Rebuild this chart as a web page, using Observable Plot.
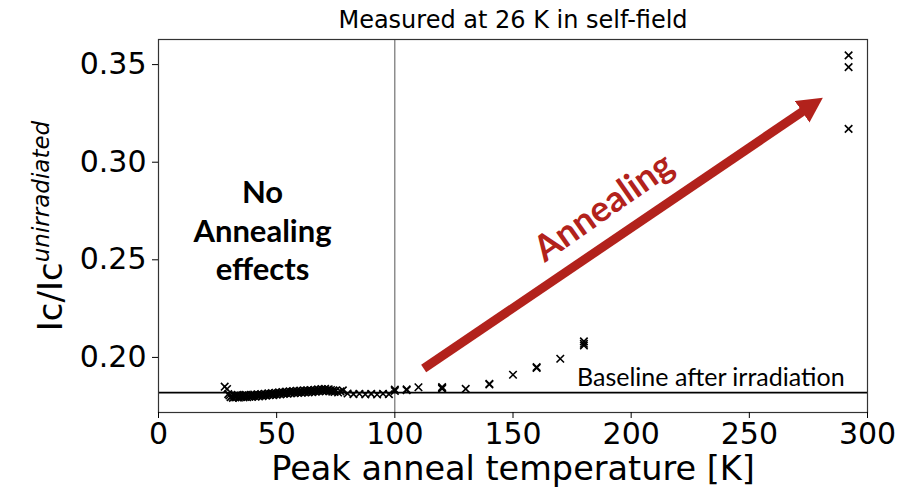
<!DOCTYPE html>
<html>
<head>
<meta charset="utf-8">
<script src="https://cdn.jsdelivr.net/npm/d3@7"></script>
<script src="https://cdn.jsdelivr.net/npm/@observablehq/plot@0.6"></script>
<style>
  html, body { margin: 0; padding: 0; background: white; }
  #chart { width: 914px; height: 492px; }
</style>
</head>
<body>
<div id="chart"></div>
<script>
// ---- data ----
const temps = [
  28, 29, 29.5, 30, 30.5, 31, 31.5, 32, 32.5, 33, 33.5, 34, 34.5, 35, 35.5, 36, 36.5, 37, 37.5, 38,
  38.5, 39, 39.5, 40, 40.5, 41, 41.5, 42, 42.5, 43, 43.5, 44, 44.5, 45, 45.5, 46, 46.5, 47, 47.5, 48,
  48.5, 49, 49.5, 50, 50.5, 51, 51.5, 52, 52.5, 53, 53.5, 54, 54.5, 55, 55.5, 56, 56.5, 57, 57.5, 58,
  58.5, 59, 59.5, 60, 60.5, 61, 61.5, 62, 62.5, 63, 63.5, 64, 64.5, 65, 65.5, 66, 66.5, 67, 67.5, 68,
  68.5, 69, 69.5, 70, 70.5, 71, 71.5, 72, 72.5, 73, 73.5, 74, 74.5, 75, 76, 77, 78,
  80, 82.5, 85, 87.5, 90, 92.5, 95, 97.5,
  100, 100, 105, 105, 110, 120, 120, 120, 130, 140, 140, 150, 160, 160, 170,
  180, 180, 180, 292, 292, 292
];
const ratios = [
  0.1850, 0.1838, 0.1812, 0.1805, 0.1796, 0.1801, 0.1793, 0.1805, 0.1795, 0.1800, 0.1808, 0.1794, 0.1802, 0.1797, 0.1806, 0.1795, 0.1801, 0.1808, 0.1796, 0.1803,
  0.1799, 0.1808, 0.1797, 0.1804, 0.1810, 0.1799, 0.1805, 0.1811, 0.1800, 0.1806, 0.1812, 0.1802, 0.1808, 0.1814, 0.1804, 0.1810, 0.1816, 0.1806, 0.1812, 0.1817,
  0.1807, 0.1813, 0.1819, 0.1809, 0.1815, 0.1821, 0.1811, 0.1817, 0.1823, 0.1813, 0.1819, 0.1825, 0.1814, 0.1820, 0.1826, 0.1816, 0.1822, 0.1828, 0.1817, 0.1823,
  0.1829, 0.1818, 0.1824, 0.1830, 0.1819, 0.1825, 0.1831, 0.1820, 0.1826, 0.1832, 0.1821, 0.1827, 0.1833, 0.1822, 0.1828, 0.1834, 0.1824, 0.1830, 0.1836, 0.1826,
  0.1832, 0.1838, 0.1827, 0.1833, 0.1839, 0.1828, 0.1834, 0.1837, 0.1827, 0.1833, 0.1825, 0.1831, 0.1823, 0.1829, 0.1820, 0.1826, 0.1831,
  0.1815, 0.1812, 0.1814, 0.1811, 0.1813, 0.1810, 0.1814, 0.1812,
  0.1835, 0.1828, 0.1836, 0.1832, 0.1847, 0.1844, 0.1840, 0.1848, 0.1839, 0.1865, 0.1861, 0.1911, 0.1950, 0.1946, 0.1993,
  0.2082, 0.2061, 0.2070, 0.3547, 0.3487, 0.3171
];
const baseline = [0.182];
const separatorT = [100];
const xTicks = [0, 50, 100, 150, 200, 250, 300];
const yTicks = [0.20, 0.25, 0.30, 0.35];
const xDomain = [0, 300];
const yDomain = [0.17178, 0.36286];

const titleText = "Measured at 26 K in self-field";
const xLabelText = "Peak anneal temperature [K]";
const yLabelMain = "Ic/Ic";
const yLabelSup = "unirradiated";

// annotations (data coordinates)
const noAnnealNote = [{t: 44, r: 0.2655, text: "No\nAnnealing\neffects"}];
const baselineNote = [{t: 233.7, r: 0.1892, text: "Baseline after irradiation"}];
const annealNote = [{t: 188.4, r: 0.2768, text: "Annealing"}];
const annealArrow = [{t1: 112.2, r1: 0.1943, t2: 272.7, r2: 0.3261}];

const red = "#b2221c";
const pts = temps.map((t, i) => ({t, r: ratios[i]}));

const chart = Plot.plot({
  width: 914,
  height: 492,
  marginLeft: 158,
  marginRight: 47,
  marginTop: 39,
  marginBottom: 80,
  x: {domain: xDomain},
  y: {domain: yDomain},
  style: {fontFamily: "DejaVu Sans", background: "white", color: "black", overflow: "visible"},
  marks: [
    Plot.ruleX(separatorT, {stroke: "#555", strokeWidth: 1}),
    Plot.ruleY(baseline, {stroke: "black", strokeWidth: 1.8}),
    Plot.frame({stroke: "#333", strokeWidth: 1.2}),
    Plot.axisX({ticks: xTicks, tickSize: 6, tickPadding: 4, fontSize: 30, label: null, tickFormat: d => String(d)}),
    Plot.axisY({ticks: yTicks, tickSize: 6, tickPadding: 6, fontSize: 30, label: null, tickFormat: d => d.toFixed(2)}),
    Plot.dot(pts, {x: "t", y: "r", symbol: "times", r: 3.5, stroke: "black", strokeWidth: 1.6}),
    Plot.link(annealArrow, {x1: "t1", y1: "r1", x2: "t2", y2: "r2", stroke: red, strokeWidth: 9}),
    Plot.text(annealNote, {x: "t", y: "r", text: "text", rotate: -35, fill: red, fontSize: 36, fontWeight: "bold", fontFamily: "Lato", textAnchor: "middle", lineAnchor: "middle"}),
    Plot.text(noAnnealNote, {x: "t", y: "r", text: "text", fill: "black", fontSize: 31, fontWeight: "bold", fontFamily: "Lato", textAnchor: "middle", lineAnchor: "middle", lineHeight: 1.24}),
    Plot.text(baselineNote, {x: "t", y: "r", text: "text", fill: "black", fontSize: 25, fontFamily: "Lato", textAnchor: "middle", lineAnchor: "middle"}),
    Plot.text([titleText], {frameAnchor: "top", dy: -19, fontSize: 24, fill: "black", lineAnchor: "middle"}),
    Plot.text([xLabelText], {frameAnchor: "bottom", dy: 57, fontSize: 33.5, fill: "black", lineAnchor: "middle"})
  ]
});
document.getElementById("chart").appendChild(chart);

// arrow head as an SVG marker on the arrow shaft
const svg = d3.select(chart);
const defs = svg.insert("defs", ":first-child");
defs.append("marker")
  .attr("id", "annealHead")
  .attr("markerUnits", "userSpaceOnUse")
  .attr("markerWidth", 30)
  .attr("markerHeight", 30)
  .attr("viewBox", "0 0 30 30")
  .attr("refX", 1)
  .attr("refY", 13)
  .attr("orient", "auto")
  .append("path")
  .attr("d", "M0,0 L25,13 L0,26 Z")
  .attr("fill", red);
svg.selectAll('g[aria-label="link"] path').attr("marker-end", "url(#annealHead)");

// y-axis label with superscript
const yl = svg.append("text")
  .attr("transform", "translate(62,226) rotate(-90)")
  .attr("text-anchor", "middle")
  .attr("fill", "black")
  .style("font-family", "DejaVu Sans");
yl.append("tspan").attr("font-size", 34).text(yLabelMain);
yl.append("tspan").attr("font-size", 23).attr("font-style", "italic").attr("dy", -13).text(yLabelSup);
</script>
</body>
</html>
